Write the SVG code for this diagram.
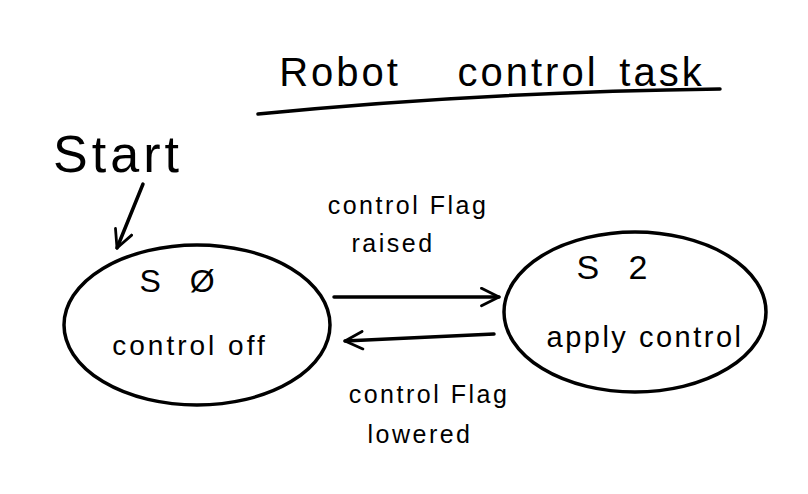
<svg xmlns="http://www.w3.org/2000/svg" width="808" height="494" viewBox="0 0 808 494">
<style>
.ln{fill:none;stroke:#000;stroke-width:3.5;stroke-linecap:round;stroke-linejoin:round}
.t{font-family:"Liberation Sans","DejaVu Sans",sans-serif;fill:#000;text-anchor:middle}
.lb{font-size:25px;letter-spacing:2.5px}
</style>
<defs>
<marker id="ah" viewBox="0 0 12 12" refX="11" refY="6" markerWidth="6" markerHeight="6" markerUnits="strokeWidth" orient="auto">
<path d="M1,1 L11,6 L1,11" fill="none" stroke="#000" stroke-width="1.6" stroke-linecap="round" stroke-linejoin="round"/>
</marker>
</defs>
<rect width="808" height="494" fill="#fff"/>
<g id="title">
<text class="t" x="495" y="86" font-size="40" letter-spacing="3"><tspan x="340">Robot</tspan><tspan x="528">control</tspan><tspan x="662">task</tspan></text>
<path class="ln" d="M258,114 Q480,92 720,89"/>
</g>
<g id="start">
<text class="t" x="118" y="172" font-size="52" letter-spacing="4">Start</text>
</g>
<g id="s0">
<ellipse class="ln" cx="197" cy="325" rx="133" ry="80"/>
<text class="t" x="182" y="292" font-size="32" letter-spacing="10">S Ø</text>
<text class="t" x="190" y="355" font-size="28" letter-spacing="3">control off</text>
</g>
<g id="s2">
<ellipse class="ln" cx="635" cy="312" rx="131" ry="80"/>
<text class="t" x="617" y="279" font-size="34" letter-spacing="10">S 2</text>
<text class="t" x="645" y="347" font-size="29" letter-spacing="2.5">apply control</text>
</g>
<g id="connectors">
<path class="ln" d="M143,184 L117,248" marker-end="url(#ah)"/>
<path class="ln" d="M334,297 L499,297" marker-end="url(#ah)"/>
<path class="ln" d="M494,334 L345,341" marker-end="url(#ah)"/>
</g>
<g id="labels">
<text class="t lb" x="408" y="214">control Flag</text>
<text class="t lb" x="393" y="252">raised</text>
<text class="t lb" x="429" y="403">control Flag</text>
<text class="t lb" x="420" y="443" font-size="27" letter-spacing="4">lowered</text>
</g>
</svg>
